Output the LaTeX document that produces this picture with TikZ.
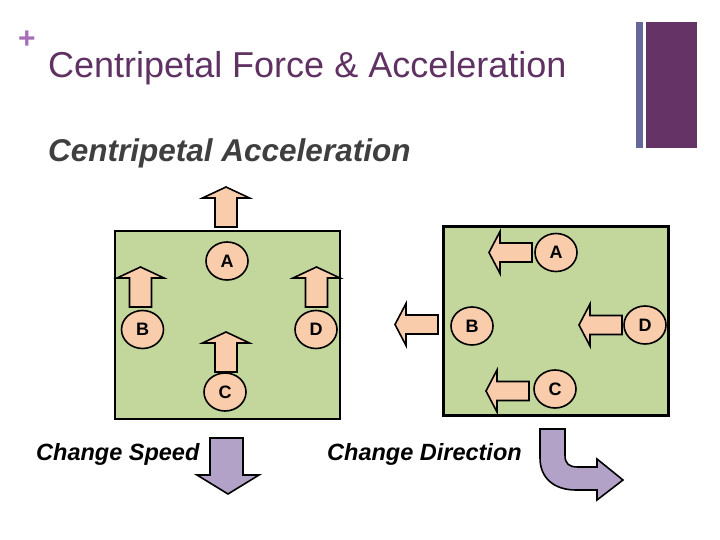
\documentclass[tikz,border=0pt]{standalone}
\usepackage{fontspec}
\setmainfont{Liberation Sans}
\usetikzlibrary{shapes.geometric}

\definecolor{boxgreen}{HTML}{C3D69B}
\definecolor{peach}{HTML}{F9CCAB}
\definecolor{lilac}{HTML}{B3A2C7}
\definecolor{titlepurple}{HTML}{5F3263}
\definecolor{barpurple}{HTML}{663366}
\definecolor{barblue}{HTML}{666699}
\definecolor{pluspink}{HTML}{A86DB8}
\definecolor{subgray}{HTML}{3F3F3F}

\tikzset{
    uparr/.pic={\draw[line width=1.6pt, fill=peach] (-11,0) -- (-11,-29) -- (-23.5,-29) -- (0,-40) -- (23.5,-29) -- (11,-29) -- (11,0) -- cycle;},
    leftarr/.pic={\draw[line width=1.6pt, fill=peach] (0,-9.5) -- (-32,-9.5) -- (-32,-21) -- (-43,0) -- (-32,21) -- (-32,9.5) -- (0,9.5) -- cycle;}
}

\begin{document}
\begin{tikzpicture}[x=1pt, y=-1pt,
    pnt/.style={ellipse, draw, line width=1.6pt, fill=peach, minimum width=42pt, minimum height=38pt, inner sep=0pt, font=\fontsize{18}{18}\selectfont\bfseries},
    greenbox/.style={draw, line width=2.4pt, fill=boxgreen, inner sep=0pt},
    caption/.style={anchor=base west, inner sep=0pt, font=\fontsize{23.5}{24}\selectfont\bfseries\itshape}]

    \useasboundingbox (0,0) rectangle (720,540);

    % heading
    \node[pluspink, inner sep=0pt, font=\fontsize{30}{30}\selectfont\bfseries] (plus) at (27,40) {+};
    \node[anchor=base west, inner sep=0pt, titlepurple, font=\fontsize{36}{36}\selectfont] (title) at (48,78) {Centripetal Force \& Acceleration};
    \node[anchor=base west, inner sep=0pt, subgray, font=\fontsize{31.5}{32}\selectfont\bfseries\itshape] (sub) at (48,162) {Centripetal Acceleration};
    \fill[barblue] (636,22) rectangle (643,148);
    \fill[barpurple] (646,22) rectangle (697,148);

    % change of speed
    \node[greenbox, minimum width=225pt, minimum height=188pt] (lbox) at (227.5,325) {};
    \pic at (226,227) {uparr};
    \pic at (140.5,307) {uparr};
    \pic at (316.5,307) {uparr};
    \pic at (226,372) {uparr};
    \node[pnt] (la) at (227,261) {A};
    \node[pnt] (lb) at (142.5,329.5) {B};
    \node[pnt] (ld) at (316,329.5) {D};
    \node[pnt] (lc) at (225,392) {C};

    % change of direction
    \node[greenbox, minimum width=225pt, minimum height=189pt] (rbox) at (556,321) {};
    \pic at (532,252.5) {leftarr};
    \pic at (438,324.5) {leftarr};
    \pic at (622,325) {leftarr};
    \pic at (529,391) {leftarr};
    \node[pnt] (ra) at (556,252.5) {A};
    \node[pnt] (rb) at (472,326) {B};
    \node[pnt] (rd) at (645,325) {D};
    \node[pnt] (rc) at (555,389) {C};

    % captions
    \node[caption] (speed) at (36,460) {Change Speed};
    \node[caption] (dir) at (327,460) {Change Direction};
    \draw[line width=1.6pt, fill=lilac] (210,438) -- (243,438) -- (243,475) -- (259,475) -- (228,494) -- (197,475) -- (210,475) -- cycle;
    \draw[line width=1.6pt, fill=lilac] (540,429) -- (565,429) -- (565,455)
        .. controls (565,464) and (569,467) .. (578,467) -- (597,467) -- (597,459) -- (623,480) -- (597,500) -- (597,490) -- (576,490)
        .. controls (554,490) and (540,478) .. (540,458) -- cycle;

\end{tikzpicture}
\end{document}
